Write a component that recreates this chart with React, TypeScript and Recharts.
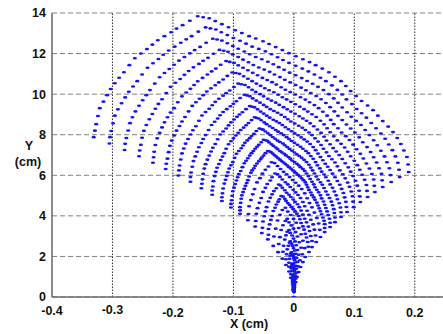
import React from 'react';
import { ScatterChart, Scatter, XAxis, YAxis, CartesianGrid, ReferenceLine } from 'recharts';

// Tick values
const X_TICKS = [-0.4, -0.3, -0.2, -0.1, 0, 0.1, 0.2];
const Y_TICKS = [0, 2, 4, 6, 8, 10, 12, 14];
const X_GRID = [-0.3, -0.2, -0.1, 0, 0.1, 0.2];

// Apex point
const apexX = [0];
const apexY = [0];

// Points along each curved ray of the fan, from the apex outwards
const ray00X = [-0.001,-0.002,-0.005,-0.008,-0.013,-0.019,-0.026,-0.034,-0.043,-0.053,-0.064,-0.076,-0.089,-0.104,-0.119,-0.135,-0.153,-0.171,-0.191,-0.212,-0.233,-0.256,-0.280,-0.305,-0.331];
const ray00Y = [0.32,0.63,0.95,1.26,1.58,1.89,2.21,2.52,2.84,3.15,3.47,3.78,4.10,4.41,4.73,5.04,5.36,5.68,5.99,6.31,6.62,6.94,7.25,7.57,7.88];
const ray01X = [-0.042,-0.052,-0.063,-0.075,-0.089,-0.103,-0.118,-0.134,-0.151,-0.170,-0.189,-0.209,-0.231,-0.253,-0.277,-0.302,-0.327];
const ray01Y = [3.07,3.41,3.75,4.09,4.43,4.77,5.11,5.45,5.80,6.14,6.48,6.82,7.16,7.50,7.84,8.18,8.52];
const ray02X = [-0.001,-0.002,-0.005,-0.008,-0.013,-0.018,-0.025,-0.033,-0.042,-0.051,-0.062,-0.074,-0.087,-0.101,-0.115,-0.131,-0.148,-0.166,-0.185,-0.205,-0.226,-0.248,-0.271,-0.296,-0.321];
const ray02Y = [0.37,0.74,1.12,1.49,1.86,2.23,2.61,2.98,3.35,3.72,4.10,4.47,4.84,5.21,5.59,5.96,6.33,6.70,7.08,7.45,7.82,8.19,8.57,8.94,9.31];
const ray03X = [-0.040,-0.049,-0.060,-0.071,-0.084,-0.097,-0.111,-0.127,-0.143,-0.160,-0.179,-0.198,-0.218,-0.239,-0.262,-0.285,-0.309];
const ray03Y = [3.58,3.98,4.38,4.78,5.17,5.57,5.97,6.37,6.77,7.16,7.56,7.96,8.36,8.76,9.15,9.55,9.95];
const ray04X = [-0.0005,-0.002,-0.004,-0.008,-0.012,-0.017,-0.023,-0.030,-0.038,-0.047,-0.057,-0.068,-0.080,-0.093,-0.107,-0.121,-0.137,-0.153,-0.171,-0.189,-0.209,-0.229,-0.250,-0.273,-0.296];
const ray04Y = [0.42,0.84,1.27,1.69,2.11,2.53,2.95,3.37,3.80,4.22,4.64,5.06,5.48,5.90,6.33,6.75,7.17,7.59,8.01,8.43,8.86,9.28,9.70,10.12,10.54];
const ray05X = [-0.036,-0.045,-0.054,-0.065,-0.076,-0.088,-0.101,-0.115,-0.130,-0.146,-0.162,-0.180,-0.198,-0.218,-0.238,-0.259,-0.281];
const ray05Y = [3.99,4.43,4.88,5.32,5.76,6.21,6.65,7.09,7.54,7.98,8.42,8.87,9.31,9.75,10.20,10.64,11.08];
const ray06X = [-0.0004,-0.002,-0.004,-0.007,-0.011,-0.015,-0.021,-0.027,-0.034,-0.042,-0.051,-0.061,-0.071,-0.082,-0.095,-0.108,-0.122,-0.136,-0.152,-0.168,-0.185,-0.204,-0.222,-0.242,-0.263];
const ray06Y = [0.47,0.94,1.41,1.88,2.35,2.83,3.30,3.77,4.24,4.71,5.18,5.65,6.12,6.59,7.06,7.53,8.01,8.48,8.95,9.42,9.89,10.36,10.83,11.30,11.77];
const ray07X = [-0.031,-0.039,-0.047,-0.056,-0.066,-0.076,-0.087,-0.100,-0.112,-0.126,-0.140,-0.156,-0.171,-0.188,-0.206,-0.224,-0.243];
const ray07Y = [4.40,4.89,5.38,5.86,6.35,6.84,7.33,7.82,8.31,8.80,9.28,9.77,10.26,10.75,11.24,11.73,12.22];
const ray08X = [-0.0004,-0.001,-0.003,-0.006,-0.009,-0.013,-0.018,-0.023,-0.029,-0.036,-0.044,-0.052,-0.061,-0.070,-0.081,-0.092,-0.104,-0.117,-0.130,-0.144,-0.159,-0.174,-0.190,-0.207,-0.225];
const ray08Y = [0.51,1.01,1.52,2.03,2.53,3.04,3.54,4.05,4.56,5.06,5.57,6.08,6.58,7.09,7.60,8.10,8.61,9.12,9.62,10.13,10.63,11.14,11.65,12.15,12.66];
const ray09X = [-0.026,-0.033,-0.039,-0.047,-0.055,-0.064,-0.073,-0.083,-0.094,-0.105,-0.117,-0.130,-0.143,-0.157,-0.172,-0.187,-0.203];
const ray09Y = [4.70,5.22,5.74,6.27,6.79,7.31,7.83,8.35,8.88,9.40,9.92,10.44,10.97,11.49,12.01,12.53,13.05];
const ray10X = [-0.0003,-0.001,-0.003,-0.005,-0.007,-0.011,-0.014,-0.019,-0.024,-0.029,-0.036,-0.042,-0.050,-0.058,-0.066,-0.075,-0.085,-0.095,-0.106,-0.117,-0.129,-0.142,-0.155,-0.169,-0.184];
const ray10Y = [0.54,1.07,1.61,2.14,2.68,3.22,3.75,4.29,4.82,5.36,5.90,6.43,6.97,7.50,8.04,8.58,9.11,9.65,10.18,10.72,11.26,11.79,12.33,12.86,13.40];
const ray11X = [-0.021,-0.025,-0.031,-0.037,-0.043,-0.050,-0.057,-0.065,-0.073,-0.082,-0.092,-0.102,-0.112,-0.123,-0.134,-0.146,-0.159];
const ray11Y = [4.98,5.54,6.09,6.64,7.20,7.75,8.31,8.86,9.41,9.97,10.52,11.07,11.63,12.18,12.73,13.29,13.84];
const ray12X = [-0.0002,-0.001,-0.002,-0.004,-0.006,-0.008,-0.011,-0.014,-0.018,-0.022,-0.027,-0.032,-0.038,-0.044,-0.051,-0.058,-0.065,-0.073,-0.081,-0.090,-0.099,-0.109,-0.119,-0.129,-0.140];
const ray12Y = [0.55,1.10,1.65,2.20,2.75,3.30,3.85,4.40,4.95,5.50,6.05,6.60,7.15,7.70,8.25,8.80,9.35,9.90,10.45,11.00,11.54,12.09,12.64,13.19,13.74];
const ray13X = [-0.015,-0.019,-0.023,-0.027,-0.032,-0.037,-0.043,-0.049,-0.055,-0.062,-0.069,-0.076,-0.084,-0.092,-0.101,-0.110,-0.119];
const ray13Y = [4.84,5.38,5.92,6.46,6.99,7.53,8.07,8.61,9.14,9.68,10.22,10.76,11.30,11.83,12.37,12.91,13.45];
const ray14X = [-0.0002,-0.0006,-0.001,-0.002,-0.004,-0.006,-0.008,-0.010,-0.013,-0.015,-0.019,-0.022,-0.026,-0.030,-0.035,-0.040,-0.045,-0.050,-0.056,-0.062,-0.068,-0.075,-0.082,-0.089,-0.097];
const ray14Y = [0.53,1.05,1.58,2.10,2.63,3.16,3.68,4.21,4.74,5.26,5.79,6.31,6.84,7.37,7.89,8.42,8.94,9.47,10.00,10.52,11.05,11.57,12.10,12.63,13.15];
const ray15X = [-0.010,-0.012,-0.014,-0.017,-0.020,-0.023,-0.027,-0.030,-0.034,-0.039,-0.043,-0.048,-0.052,-0.058,-0.063,-0.069,-0.074];
const ray15Y = [4.63,5.14,5.66,6.17,6.69,7.20,7.71,8.23,8.74,9.26,9.77,10.29,10.80,11.31,11.83,12.34,12.86];
const ray16X = [-0.0001,-0.0003,-0.0007,-0.001,-0.002,-0.003,-0.004,-0.005,-0.007,-0.008,-0.010,-0.012,-0.014,-0.016,-0.018,-0.021,-0.024,-0.027,-0.030,-0.033,-0.036,-0.040,-0.043,-0.047,-0.051];
const ray16Y = [0.50,1.01,1.51,2.02,2.52,3.03,3.53,4.04,4.54,5.04,5.55,6.05,6.56,7.06,7.57,8.07,8.58,9.08,9.58,10.09,10.59,11.10,11.60,12.11,12.61];
const ray17X = [-0.004,-0.005,-0.006,-0.007,-0.008,-0.009,-0.011,-0.012,-0.014,-0.015,-0.017,-0.019,-0.021,-0.023,-0.025,-0.027,-0.030];
const ray17Y = [4.43,4.93,5.42,5.91,6.40,6.90,7.39,7.88,8.37,8.87,9.36,9.85,10.34,10.84,11.33,11.82,12.32];
const ray18X = [0,0,0,0,-0.0005,-0.0005,-0.0005,-0.0005,-0.001,-0.001,-0.001,-0.002,-0.002,-0.003,-0.003,-0.004,-0.004,-0.005,-0.005,-0.005,-0.006,-0.006,-0.007,-0.008,-0.008];
const ray18Y = [0.48,0.96,1.44,1.92,2.40,2.88,3.37,3.85,4.33,4.81,5.29,5.77,6.25,6.73,7.21,7.69,8.17,8.65,9.14,9.62,10.10,10.58,11.06,11.54,12.02];
const ray19X = [0.002,0.002,0.003,0.003,0.004,0.005,0.005,0.006,0.007,0.008,0.009,0.010,0.011,0.012,0.013,0.014,0.015];
const ray19Y = [4.22,4.69,5.16,5.63,6.10,6.57,7.03,7.50,7.97,8.44,8.91,9.38,9.85,10.32,10.79,11.26,11.72];
const ray20X = [0.0001,0.0002,0.0005,0.001,0.0015,0.002,0.003,0.004,0.005,0.006,0.007,0.008,0.010,0.011,0.013,0.015,0.017,0.019,0.021,0.023,0.026,0.028,0.031,0.034,0.036];
const ray20Y = [0.46,0.91,1.37,1.83,2.29,2.74,3.20,3.66,4.11,4.57,5.03,5.49,5.94,6.40,6.86,7.31,7.77,8.23,8.69,9.14,9.60,10.06,10.51,10.97,11.43];
const ray21X = [0.008,0.009,0.011,0.013,0.016,0.018,0.021,0.024,0.027,0.030,0.033,0.037,0.041,0.045,0.049,0.053,0.058];
const ray21Y = [3.99,4.43,4.88,5.32,5.76,6.21,6.65,7.09,7.54,7.98,8.42,8.87,9.31,9.75,10.20,10.64,11.08];
const ray22X = [0.0001,0.0005,0.001,0.002,0.003,0.004,0.006,0.008,0.010,0.012,0.015,0.018,0.021,0.024,0.028,0.032,0.036,0.040,0.045,0.050,0.055,0.060,0.066,0.072,0.078];
const ray22Y = [0.43,0.85,1.28,1.70,2.13,2.55,2.98,3.40,3.83,4.26,4.68,5.11,5.53,5.96,6.38,6.81,7.24,7.66,8.09,8.51,8.94,9.36,9.79,10.21,10.64];
const ray23X = [0.012,0.015,0.018,0.022,0.025,0.030,0.034,0.039,0.044,0.049,0.054,0.060,0.066,0.073,0.080,0.087,0.094];
const ray23Y = [3.65,4.06,4.47,4.87,5.28,5.68,6.09,6.49,6.90,7.31,7.71,8.12,8.52,8.93,9.34,9.74,10.15];
const ray24X = [0.0002,0.0007,0.002,0.003,0.0045,0.006,0.009,0.012,0.015,0.018,0.022,0.026,0.030,0.035,0.040,0.046,0.052,0.058,0.065,0.072,0.079,0.087,0.095,0.104,0.112];
const ray24Y = [0.39,0.77,1.16,1.54,1.93,2.32,2.70,3.09,3.48,3.86,4.25,4.63,5.02,5.41,5.79,6.18,6.57,6.95,7.34,7.72,8.11,8.50,8.88,9.27,9.66];
const ray25X = [0.017,0.021,0.025,0.030,0.035,0.041,0.047,0.053,0.060,0.068,0.075,0.084,0.092,0.101,0.111,0.120,0.131];
const ray25Y = [3.32,3.68,4.05,4.42,4.79,5.16,5.53,5.90,6.26,6.63,7.00,7.37,7.74,8.11,8.48,8.84,9.21];
const ray26X = [0.0002,0.001,0.002,0.004,0.006,0.008,0.012,0.015,0.019,0.024,0.028,0.034,0.040,0.046,0.053,0.060,0.068,0.076,0.085,0.094,0.104,0.114,0.125,0.136,0.147];
const ray26Y = [0.35,0.69,1.04,1.39,1.73,2.08,2.43,2.77,3.12,3.47,3.81,4.16,4.51,4.86,5.20,5.55,5.90,6.24,6.59,6.94,7.28,7.63,7.98,8.32,8.67];
const ray27X = [0.021,0.026,0.032,0.038,0.044,0.051,0.059,0.067,0.076,0.085,0.094,0.105,0.115,0.127,0.138,0.151,0.164];
const ray27Y = [2.93,3.25,3.58,3.90,4.23,4.55,4.88,5.20,5.53,5.85,6.18,6.50,6.83,7.15,7.48,7.80,8.13];
const ray28X = [0.0003,0.001,0.003,0.005,0.007,0.010,0.014,0.018,0.023,0.028,0.034,0.041,0.048,0.055,0.064,0.072,0.082,0.092,0.102,0.113,0.125,0.137,0.150,0.163,0.177];
const ray28Y = [0.30,0.60,0.90,1.21,1.51,1.81,2.11,2.41,2.71,3.01,3.32,3.62,3.92,4.22,4.52,4.82,5.13,5.43,5.73,6.03,6.33,6.63,6.93,7.24,7.54];
const ray29X = [0.024,0.030,0.036,0.043,0.051,0.059,0.067,0.077,0.086,0.097,0.108,0.120,0.132,0.145,0.158,0.172,0.187];
const ray29Y = [2.48,2.76,3.03,3.31,3.59,3.86,4.14,4.41,4.69,4.97,5.24,5.52,5.79,6.07,6.35,6.62,6.90];
const ray30X = [0.0003,0.001,0.003,0.005,0.008,0.011,0.015,0.019,0.025,0.030,0.037,0.044,0.051,0.060,0.068,0.078,0.088,0.099,0.110,0.122,0.134,0.147,0.161,0.175,0.190];
const ray30Y = [0.25,0.49,0.74,0.99,1.23,1.48,1.72,1.97,2.22,2.46,2.71,2.96,3.20,3.45,3.69,3.94,4.19,4.43,4.68,4.93,5.17,5.42,5.67,5.91,6.16];

// Additional dots on the outer arcs, lying between neighbouring rays (outer part of the fan)
const mid00X = [-0.089,-0.104,-0.119,-0.135,-0.152,-0.171,-0.190,-0.211,-0.232,-0.255,-0.279,-0.304,-0.329];
const mid00Y = [4.27,4.59,4.92,5.25,5.58,5.91,6.24,6.57,6.89,7.22,7.55,7.88,8.20];
const mid01X = [-0.088,-0.102,-0.117,-0.133,-0.150,-0.168,-0.187,-0.207,-0.229,-0.251,-0.274,-0.299,-0.324];
const mid01Y = [4.64,4.99,5.35,5.71,6.07,6.42,6.78,7.14,7.49,7.85,8.21,8.56,8.92];
const mid02X = [-0.086,-0.099,-0.113,-0.129,-0.146,-0.163,-0.182,-0.202,-0.222,-0.244,-0.267,-0.291,-0.315];
const mid02Y = [5.01,5.39,5.78,6.17,6.55,6.93,7.32,7.71,8.09,8.48,8.86,9.25,9.63];
const mid03X = [-0.082,-0.095,-0.109,-0.124,-0.140,-0.157,-0.175,-0.194,-0.214,-0.234,-0.256,-0.279,-0.303];
const mid03Y = [5.33,5.74,6.15,6.56,6.97,7.38,7.79,8.20,8.61,9.02,9.43,9.84,10.25];
const mid04X = [-0.078,-0.091,-0.104,-0.118,-0.134,-0.150,-0.167,-0.185,-0.204,-0.224,-0.244,-0.266,-0.289];
const mid04Y = [5.62,6.06,6.49,6.92,7.36,7.79,8.22,8.65,9.09,9.52,9.95,10.38,10.81];
const mid05X = [-0.074,-0.085,-0.098,-0.112,-0.126,-0.141,-0.157,-0.174,-0.192,-0.211,-0.230,-0.251,-0.272];
const mid05Y = [5.94,6.40,6.86,7.31,7.78,8.23,8.69,9.15,9.60,10.06,10.52,10.97,11.43];
const mid06X = [-0.069,-0.079,-0.091,-0.104,-0.117,-0.131,-0.146,-0.162,-0.178,-0.196,-0.214,-0.233,-0.253];
const mid06Y = [6.24,6.72,7.20,7.68,8.16,8.64,9.12,9.60,10.08,10.56,11.04,11.52,12.00];
const mid07X = [-0.064,-0.073,-0.084,-0.096,-0.108,-0.122,-0.135,-0.150,-0.165,-0.181,-0.198,-0.216,-0.234];
const mid07Y = [6.47,6.97,7.47,7.96,8.46,8.96,9.45,9.95,10.45,10.95,11.45,11.94,12.44];
const mid08X = [-0.058,-0.067,-0.077,-0.088,-0.099,-0.111,-0.124,-0.137,-0.151,-0.166,-0.181,-0.197,-0.214];
const mid08Y = [6.69,7.20,7.72,8.23,8.75,9.26,9.77,10.29,10.80,11.32,11.83,12.34,12.86];
const mid09X = [-0.053,-0.061,-0.070,-0.079,-0.090,-0.100,-0.112,-0.124,-0.136,-0.150,-0.164,-0.178,-0.194];
const mid09Y = [6.88,7.41,7.94,8.47,9.00,9.53,10.05,10.58,11.12,11.64,12.17,12.70,13.23];
const mid10X = [-0.047,-0.054,-0.062,-0.070,-0.079,-0.089,-0.099,-0.110,-0.121,-0.133,-0.145,-0.158,-0.172];
const mid10Y = [7.09,7.63,8.18,8.72,9.26,9.81,10.35,10.90,11.45,11.99,12.53,13.08,13.62];
const mid11X = [-0.041,-0.047,-0.054,-0.062,-0.069,-0.078,-0.087,-0.096,-0.106,-0.116,-0.127,-0.138,-0.150];
const mid11Y = [7.18,7.73,8.28,8.83,9.38,9.94,10.49,11.04,11.59,12.14,12.69,13.24,13.79];
const mid12X = [-0.035,-0.041,-0.047,-0.054,-0.060,-0.068,-0.075,-0.083,-0.092,-0.101,-0.110,-0.120,-0.130];
const mid12Y = [7.07,7.62,8.16,8.71,9.25,9.79,10.34,10.88,11.42,11.96,12.51,13.05,13.60];
const mid13X = [-0.029,-0.034,-0.039,-0.045,-0.050,-0.056,-0.063,-0.069,-0.076,-0.084,-0.092,-0.100,-0.108];
const mid13Y = [6.92,7.45,7.98,8.52,9.04,9.58,10.11,10.64,11.18,11.70,12.24,12.77,13.30];
const mid14X = [-0.023,-0.027,-0.031,-0.035,-0.040,-0.045,-0.050,-0.055,-0.060,-0.067,-0.073,-0.079,-0.086];
const mid14Y = [6.77,7.29,7.80,8.33,8.84,9.37,9.89,10.41,10.93,11.44,11.97,12.49,13.01];
const mid15X = [-0.017,-0.020,-0.023,-0.026,-0.029,-0.033,-0.037,-0.041,-0.044,-0.049,-0.053,-0.058,-0.063];
const mid15Y = [6.63,7.13,7.64,8.15,8.66,9.17,9.68,10.19,10.70,11.21,11.72,12.23,12.74];
const mid16X = [-0.011,-0.013,-0.015,-0.017,-0.019,-0.021,-0.024,-0.026,-0.029,-0.032,-0.034,-0.037,-0.041];
const mid16Y = [6.48,6.98,7.48,7.98,8.48,8.98,9.47,9.97,10.47,10.97,11.47,11.97,12.47];
const mid17X = [-0.005,-0.006,-0.007,-0.008,-0.009,-0.010,-0.011,-0.012,-0.014,-0.015,-0.016,-0.018,-0.019];
const mid17Y = [6.33,6.82,7.30,7.79,8.27,8.76,9.25,9.74,10.22,10.71,11.20,11.68,12.17];
const mid18X = [0.001,0.001,0.001,0.001,0.0015,0.0015,0.002,0.0025,0.0025,0.003,0.003,0.003,0.0035];
const mid18Y = [6.18,6.65,7.12,7.60,8.07,8.55,9.03,9.50,9.98,10.45,10.93,11.40,11.87];
const mid19X = [0.007,0.008,0.009,0.011,0.012,0.014,0.015,0.017,0.019,0.020,0.022,0.024,0.026];
const mid19Y = [6.02,6.49,6.95,7.41,7.87,8.34,8.80,9.26,9.73,10.19,10.65,11.12,11.58];
const mid20X = [0.013,0.015,0.017,0.020,0.022,0.025,0.027,0.030,0.034,0.037,0.040,0.044,0.047];
const mid20Y = [5.85,6.31,6.76,7.20,7.66,8.11,8.56,9.01,9.46,9.91,10.36,10.81,11.26];
const mid21X = [0.019,0.021,0.025,0.028,0.032,0.035,0.039,0.044,0.048,0.053,0.058,0.063,0.068];
const mid21Y = [5.65,6.09,6.52,6.95,7.39,7.82,8.26,8.69,9.13,9.56,10.00,10.43,10.86];
const mid22X = [0.023,0.027,0.031,0.036,0.040,0.045,0.050,0.055,0.061,0.067,0.073,0.080,0.086];
const mid22Y = [5.41,5.82,6.24,6.65,7.07,7.49,7.90,8.32,8.73,9.15,9.57,9.98,10.40];
const mid23X = [0.028,0.033,0.037,0.043,0.048,0.054,0.060,0.066,0.073,0.080,0.088,0.096,0.103];
const mid23Y = [5.15,5.55,5.94,6.34,6.74,7.13,7.53,7.92,8.32,8.72,9.11,9.51,9.91];
const mid24X = [0.033,0.038,0.044,0.050,0.056,0.063,0.070,0.078,0.086,0.094,0.103,0.112,0.122];
const mid24Y = [4.91,5.29,5.66,6.04,6.42,6.79,7.17,7.55,7.93,8.31,8.68,9.06,9.44];
const mid25X = [0.038,0.044,0.050,0.057,0.064,0.072,0.080,0.089,0.098,0.108,0.118,0.128,0.139];
const mid25Y = [4.65,5.01,5.37,5.73,6.08,6.44,6.80,7.16,7.51,7.87,8.23,8.58,8.94];
const mid26X = [0.042,0.049,0.056,0.064,0.072,0.081,0.090,0.100,0.110,0.121,0.132,0.144,0.156];
const mid26Y = [4.37,4.71,5.04,5.38,5.72,6.05,6.39,6.72,7.06,7.39,7.73,8.06,8.40];
const mid27X = [0.046,0.053,0.062,0.070,0.079,0.089,0.098,0.109,0.120,0.132,0.144,0.157,0.171];
const mid27Y = [4.08,4.39,4.70,5.01,5.33,5.64,5.96,6.27,6.58,6.89,7.21,7.52,7.84];
const mid28X = [0.050,0.057,0.066,0.075,0.084,0.095,0.105,0.117,0.129,0.141,0.154,0.168,0.182];
const mid28Y = [3.76,4.04,4.33,4.62,4.91,5.20,5.49,5.78,6.06,6.35,6.64,6.93,7.22];
const mid29X = [0.051,0.060,0.068,0.078,0.087,0.098,0.109,0.121,0.133,0.146,0.160,0.174,0.189];
const mid29Y = [3.40,3.66,3.92,4.18,4.44,4.70,4.96,5.23,5.48,5.75,6.01,6.27,6.53];

const SERIES_ARRAYS: [number[], number[]][] = [
  [apexX, apexY],
  [ray00X, ray00Y], [ray01X, ray01Y], [ray02X, ray02Y], [ray03X, ray03Y], [ray04X, ray04Y],
  [ray05X, ray05Y], [ray06X, ray06Y], [ray07X, ray07Y], [ray08X, ray08Y], [ray09X, ray09Y],
  [ray10X, ray10Y], [ray11X, ray11Y], [ray12X, ray12Y], [ray13X, ray13Y], [ray14X, ray14Y],
  [ray15X, ray15Y], [ray16X, ray16Y], [ray17X, ray17Y], [ray18X, ray18Y], [ray19X, ray19Y],
  [ray20X, ray20Y], [ray21X, ray21Y], [ray22X, ray22Y], [ray23X, ray23Y], [ray24X, ray24Y],
  [ray25X, ray25Y], [ray26X, ray26Y], [ray27X, ray27Y], [ray28X, ray28Y], [ray29X, ray29Y],
  [ray30X, ray30Y],
  [mid00X, mid00Y], [mid01X, mid01Y], [mid02X, mid02Y], [mid03X, mid03Y], [mid04X, mid04Y],
  [mid05X, mid05Y], [mid06X, mid06Y], [mid07X, mid07Y], [mid08X, mid08Y], [mid09X, mid09Y],
  [mid10X, mid10Y], [mid11X, mid11Y], [mid12X, mid12Y], [mid13X, mid13Y], [mid14X, mid14Y],
  [mid15X, mid15Y], [mid16X, mid16Y], [mid17X, mid17Y], [mid18X, mid18Y], [mid19X, mid19Y],
  [mid20X, mid20Y], [mid21X, mid21Y], [mid22X, mid22Y], [mid23X, mid23Y], [mid24X, mid24Y],
  [mid25X, mid25Y], [mid26X, mid26Y], [mid27X, mid27Y], [mid28X, mid28Y], [mid29X, mid29Y],
];

const points = SERIES_ARRAYS.flatMap(([xs, ys]) =>
  xs.slice(0, ys.length).map((x, i) => ({ x, y: ys[i] }))
);

const FONT = '"Liberation Sans", Arial, Helvetica, sans-serif';

// per-label vertical offsets (the reference's tick labels are slightly staggered)
const X_TICK_DY: Record<string, number> = {
  '-0.4': 14, '-0.3': 13, '-0.2': 16, '-0.1': 14, '0': 11, '0.1': 16, '0.2': 16,
};

const XTick = (props: any) => {
  const { x, y, payload } = props;
  const key = String(payload.value);
  const dy = X_TICK_DY[key] ?? 13;
  return (
    <text x={x} y={y + dy} textAnchor="middle" dominantBaseline="central"
      fontFamily={FONT} fontWeight={700} fontSize={12.5} fill="#111">
      {key}
    </text>
  );
};

const Dot = (props: any) => {
  const { cx, cy } = props;
  if (cx == null || cy == null) return null;
  return <ellipse cx={cx} cy={cy} rx={2.1} ry={1.3} fill="#1717ea" />;
};

export default function App() {
  return (
    <div style={{ position: 'absolute', left: 0, top: 0, width: 443, height: 334, overflow: 'hidden', background: '#fff' }}>
      <ScatterChart width={450} height={334} margin={{ top: 13, right: 5, bottom: 0, left: 0 }}>
        <CartesianGrid horizontal vertical={false} stroke="#808080" strokeDasharray="5 3" strokeWidth={1} />
        {X_GRID.map((v) => (
          <ReferenceLine key={v} x={v} stroke="#2e2e2e" strokeDasharray="1.5 1.5" strokeWidth={1} />
        ))}
        <XAxis
          type="number"
          dataKey="x"
          domain={[-0.4, 0.25]}
          ticks={X_TICKS}
          interval={0}
          allowDataOverflow
          height={37}
          tickSize={0}
          tickMargin={0}
          tickLine={false}
          tick={<XTick />}
          axisLine={{ stroke: '#6e6e6e', strokeWidth: 1.6 }}
          label={{
            content: () => (
              <text x={249} y={324} textAnchor="middle" dominantBaseline="central"
                fontFamily={FONT} fontWeight={700} fontSize={12.5} fill="#111">X (cm)</text>
            ),
          }}
        />
        <YAxis
          type="number"
          dataKey="y"
          domain={[0, 14]}
          ticks={Y_TICKS}
          interval={0}
          allowDataOverflow
          width={52}
          tickSize={0}
          tickMargin={6}
          tickLine={false}
          tick={{ fontFamily: FONT, fontWeight: 700, fontSize: 12.5, fill: '#111' }}
          axisLine={{ stroke: '#6e6e6e', strokeWidth: 1.6 }}
          label={{
            content: () => (
              <g>
                <text x={29} y={146} textAnchor="middle" dominantBaseline="central"
                  fontFamily={FONT} fontWeight={700} fontSize={12.5} fill="#111">Y</text>
                <text x={28} y={162} textAnchor="middle" dominantBaseline="central"
                  fontFamily={FONT} fontWeight={700} fontSize={12.5} fill="#111">(cm)</text>
              </g>
            ),
          }}
        />
        <Scatter data={points} shape={<Dot />} isAnimationActive={false} />
      </ScatterChart>
    </div>
  );
}
